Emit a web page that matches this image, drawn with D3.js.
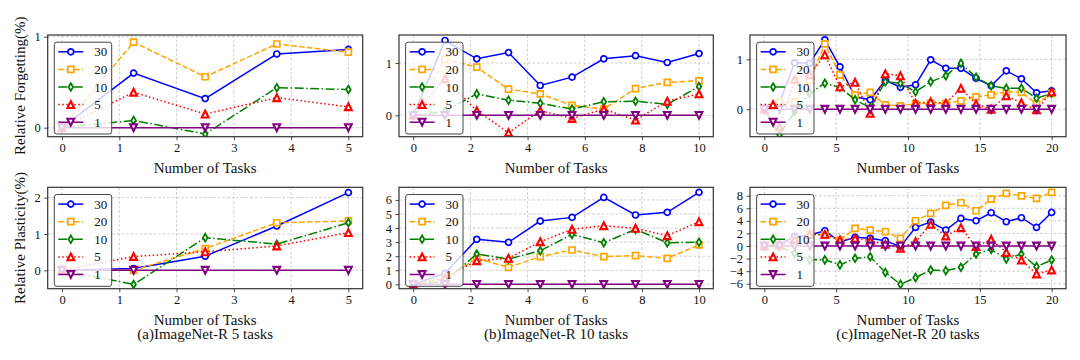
<!DOCTYPE html>
<html><head><meta charset="utf-8">
<script src="https://cdn.jsdelivr.net/npm/d3@7"></script>
<style>body{margin:0;background:#fff}svg{display:block}</style>
</head><body><svg id="c" width="1080" height="360"></svg>
<script>
// ---------- data ----------
const seriesLabels = ["30", "20", "10", "5", "1"];
const tasks5 = [0, 1.25, 2.5, 3.75, 5];
const tasks10 = [0, 1.111, 2.222, 3.333, 4.444, 5.556, 6.667, 7.778, 8.889, 10];
const tasks20 = [0, 1.053, 2.105, 3.158, 4.211, 5.263, 6.316, 7.368, 8.421, 9.474,
                 10.526, 11.579, 12.632, 13.684, 14.737, 15.789, 16.842, 17.895, 18.947, 20];

const forget5_30 = [0, 0.60, 0.32, 0.81, 0.86];
const forget5_20 = [0, 0.94, 0.56, 0.92, 0.83];
const forget5_10 = [0, 0.08, -0.07, 0.44, 0.42];
const forget5_5  = [0, 0.39, 0.15, 0.33, 0.23];
const forget5_1  = [0, 0, 0, 0, 0];

const forget10_30 = [0, 1.43, 1.08, 1.20, 0.57, 0.73, 1.08, 1.14, 1.01, 1.18];
const forget10_20 = [0, 1.07, 0.92, 0.50, 0.41, 0.19, 0.12, 0.51, 0.63, 0.66];
const forget10_10 = [0, 0.08, 0.41, 0.29, 0.23, 0.12, 0.26, 0.27, 0.21, 0.55];
const forget10_5  = [0, 0.70, 0.09, -0.33, 0.09, -0.06, 0.12, -0.09, 0.27, 0.41];
const forget10_1  = [0, 0, 0, 0, 0, 0, 0, 0, 0, 0];

const forget20_30 = [0, 0.12, 0.93, 0.92, 1.39, 0.85, 0.25, 0.19, 0.58, 0.44, 0.49, 0.99, 0.82, 0.82, 0.62, 0.47, 0.77, 0.61, 0.33, 0.37];
const forget20_20 = [0, 0.15, 0.15, 0.58, 1.31, 0.69, 0.29, 0.34, 0.09, 0.07, 0.11, 0.12, 0.12, 0.17, 0.25, 0.29, 0.35, 0.34, 0.11, 0.32];
const forget20_10 = [0, -0.51, -0.05, 0.32, 0.52, 0.44, 0.19, 0.03, 0.55, 0.52, 0.35, 0.55, 0.67, 0.92, 0.64, 0.47, 0.42, 0.42, 0.22, 0.32];
const forget20_5  = [0, -0.35, 0.60, 0.69, 1.09, 0.45, 0.54, -0.08, 0.71, 0.67, 0.12, 0.15, 0.12, 0.42, 0.11, 0.00, 0.27, 0.13, -0.01, 0.35];
const forget20_1  = [0, 0, 0, 0, 0, 0, 0, 0, 0, 0, 0, 0, 0, 0, 0, 0, 0, 0, 0, 0];

const plast5_30 = [0, 0.05, 0.39, 1.22, 2.14];
const plast5_20 = [0, 0.00, 0.60, 1.31, 1.36];
const plast5_10 = [0, -0.39, 0.90, 0.72, 1.31];
const plast5_5  = [0, 0.38, 0.51, 0.67, 1.04];
const plast5_1  = [0, 0, 0, 0, 0];

const plast10_30 = [0, 0.78, 3.20, 2.99, 4.50, 4.76, 6.18, 4.93, 5.12, 6.54];
const plast10_20 = [0, 0.40, 1.85, 1.21, 1.97, 2.44, 1.97, 2.04, 1.85, 2.80];
const plast10_10 = [0, 0.20, 2.16, 1.80, 2.39, 3.55, 2.96, 3.91, 2.96, 2.99];
const plast10_5  = [0, 0.45, 1.68, 1.85, 3.03, 3.91, 4.17, 3.98, 3.46, 4.45];
const plast10_1  = [0, 0, 0, 0, 0, 0, 0, 0, 0, 0];

const plast20_30 = [0, 0.30, 1.48, 1.75, 2.43, 0.65, 1.38, 1.22, 0.85, -0.10, 2.96, 3.81, 2.54, 4.39, 4.02, 5.29, 3.86, 4.50, 2.96, 5.34];
const plast20_20 = [0, 0.20, 0.69, 1.85, 1.75, 0.95, 2.80, 2.54, 2.28, 1.22, 4.02, 5.19, 6.46, 6.88, 5.61, 7.46, 8.36, 7.99, 7.57, 8.52];
const plast20_10 = [0, -0.10, -1.16, -2.20, -2.20, -3.00, -1.96, -1.70, -4.20, -6.10, -5.03, -3.81, -3.92, -3.39, -1.27, -0.53, -2.06, -1.27, -3.28, -2.22];
const plast20_5  = [0, 0.10, 1.00, 1.85, 1.85, 0.95, 1.20, 0.85, 0.26, -0.37, 0.69, 3.44, 1.59, 2.91, -0.10, 1.06, -1.00, -2.22, -4.44, -3.81];
const plast20_1  = [0, 0, 0, 0, 0, 0, 0, 0, 0, 0, 0, 0, 0, 0, 0, 0, 0, 0, 0, 0];

const xTicks5 = [0, 1, 2, 3, 4, 5];
const xTicks10 = [0, 2, 4, 6, 8, 10];
const xTicks20 = [0, 5, 10, 15, 20];
const yTicksForget = [0, 1];
const yTicksPlast5 = [0, 1, 2];
const yTicksPlast10 = [0, 1, 2, 3, 4, 5, 6];
const yTicksPlast20 = [-6, -4, -2, 0, 2, 4, 6, 8];

const captions = ["(a)ImageNet-R 5 tasks", "(b)ImageNet-R 10 tasks", "(c)ImageNet-R 20 tasks"];
const yLabels = ["Relative Forgetting(%)", "Relative Plasticity(%)"];
const xLabel = "Number of Tasks";

// ---------- layout / style ----------
const cols = [{l: 47.7, r: 362.7, xd: [-0.25, 5.25]}, {l: 399, r: 713.3, xd: [-0.5, 10.5]}, {l: 750, r: 1066, xd: [-1, 21]}];
const rows = [{t: 35, b: 136.7}, {t: 187.3, b: 288.7}];
const styles = [
  {color: "#0000ff", dash: null, marker: "circle"},
  {color: "#ffa500", dash: "5.5,2.4", marker: "square"},
  {color: "#008000", dash: "9,2.5,1.5,2.5", marker: "thin_diamond"},
  {color: "#ff0000", dash: "1.5,2.5", marker: "tri_up"},
  {color: "#800080", dash: null, marker: "tri_down"}
];
const FONT = "'Liberation Serif','Times New Roman',serif";

const panels = [
  {row: 0, col: 0, x: tasks5, yd: [-0.099, 1.019], yt: yTicksForget, xt: xTicks5, s: [forget5_30, forget5_20, forget5_10, forget5_5, forget5_1]},
  {row: 0, col: 1, x: tasks10, yd: [-0.408, 1.535], yt: yTicksForget, xt: xTicks10, s: [forget10_30, forget10_20, forget10_10, forget10_5, forget10_1]},
  {row: 0, col: 2, x: tasks20, yd: [-0.548, 1.486], yt: yTicksForget, xt: xTicks20, s: [forget20_30, forget20_20, forget20_10, forget20_5, forget20_1]},
  {row: 1, col: 0, x: tasks5, yd: [-0.506, 2.286], yt: yTicksPlast5, xt: xTicks5, s: [plast5_30, plast5_20, plast5_10, plast5_5, plast5_1]},
  {row: 1, col: 1, x: tasks10, yd: [-0.31, 6.9], yt: yTicksPlast10, xt: xTicks10, s: [plast10_30, plast10_20, plast10_10, plast10_5, plast10_1]},
  {row: 1, col: 2, x: tasks20, yd: [-6.79, 9.34], yt: yTicksPlast20, xt: xTicks20, s: [plast20_30, plast20_20, plast20_10, plast20_5, plast20_1]}
];

function markerPath(type) {
  switch (type) {
    case "circle": { const r = 3; return `M${r},0A${r},${r} 0 1,1 ${-r},0A${r},${r} 0 1,1 ${r},0Z`; }
    case "square": { const h = 3; return `M${-h},${-h}H${h}V${h}H${-h}Z`; }
    case "thin_diamond": { const hh = 3.8, hw = 2.3; return `M0,${-hh}L${hw},0L0,${hh}L${-hw},0Z`; }
    case "tri_up": { const h = 3.4; return `M0,${-h}L${h},${h}L${-h},${h}Z`; }
    case "tri_down": { const h = 3.4; return `M0,${h}L${h},${-h}L${-h},${-h}Z`; }
  }
}
const markerStroke = {circle: 1.7, square: 1.7, thin_diamond: 1.8, tri_up: 2.1, tri_down: 2.1};

const svg = d3.select("#c");
svg.append("rect").attr("width", 1080).attr("height", 360).attr("fill", "#fff");
const fmt = v => (v < 0 ? "\u2212" + Math.abs(v) : String(v));

panels.forEach((p, pi) => {
  const c = cols[p.col], r = rows[p.row];
  const x = d3.scaleLinear().domain(c.xd).range([c.l, c.r]);
  const y = d3.scaleLinear().domain(p.yd).range([r.b, r.t]);
  const g = svg.append("g");
  const clipId = "clip" + pi;
  g.append("clipPath").attr("id", clipId).append("rect")
    .attr("x", c.l).attr("y", r.t).attr("width", c.r - c.l).attr("height", r.b - r.t);

  // grid
  const grid = g.append("g").attr("stroke", "#c4c4c4").attr("stroke-width", 0.8).attr("stroke-dasharray", "2.8,1.8");
  p.xt.forEach(t => grid.append("line").attr("x1", x(t)).attr("x2", x(t)).attr("y1", r.t).attr("y2", r.b));
  p.yt.forEach(t => grid.append("line").attr("x1", c.l).attr("x2", c.r).attr("y1", y(t)).attr("y2", y(t)));

  // axes
  const xAxis = d3.axisBottom(x).tickValues(p.xt).tickFormat(fmt).tickSize(3.5).tickPadding(3);
  const yAxis = d3.axisLeft(y).tickValues(p.yt).tickFormat(fmt).tickSize(3.5).tickPadding(3.5);
  const gx = g.append("g").attr("transform", `translate(0,${r.b})`).call(xAxis);
  const gy = g.append("g").attr("transform", `translate(${c.l},0)`).call(yAxis);
  [gx, gy].forEach(a => {
    a.select(".domain").remove();
    a.selectAll("line").attr("stroke", "#333").attr("stroke-width", 0.9);
    a.selectAll("text").attr("font-family", FONT).attr("font-size", 12.5).attr("fill", "#111");
  });

  // series
  const plot = g.append("g").attr("clip-path", `url(#${clipId})`);
  p.s.forEach((vals, si) => {
    const st = styles[si];
    const pts = vals.map((v, i) => [p.x[i], v]);
    const line = d3.line().x(d => x(d[0])).y(d => y(d[1]));
    plot.append("path").attr("d", line(pts)).attr("fill", "none")
      .attr("stroke", st.color).attr("stroke-width", 1.5)
      .attr("stroke-dasharray", st.dash);
    plot.selectAll(null).data(pts).enter().append("path")
      .attr("d", markerPath(st.marker))
      .attr("transform", d => `translate(${x(d[0])},${y(d[1])})`)
      .attr("fill", "#fff").attr("stroke", st.color).attr("stroke-width", markerStroke[st.marker]);
  });

  // legend
  const lx = c.l + 6.6, ly = r.t + 7.2, lw = 57.4, lh = 91.8;
  const lg = g.append("g");
  lg.append("rect").attr("x", lx).attr("y", ly).attr("width", lw).attr("height", lh)
    .attr("rx", 2.5).attr("fill", "#fff").attr("fill-opacity", 0.8)
    .attr("stroke", "#444").attr("stroke-width", 1);
  seriesLabels.forEach((lab, si) => {
    const st = styles[si];
    const cy = ly + 9.6 + si * 17.6;
    lg.append("line").attr("x1", lx + 4).attr("x2", lx + 29).attr("y1", cy).attr("y2", cy)
      .attr("stroke", st.color).attr("stroke-width", 1.5).attr("stroke-dasharray", st.dash);
    lg.append("path").attr("d", markerPath(st.marker)).attr("transform", `translate(${lx + 16.5},${cy})`)
      .attr("fill", "#fff").attr("stroke", st.color).attr("stroke-width", markerStroke[st.marker]);
    lg.append("text").attr("x", lx + 40).attr("y", cy).attr("dy", "0.35em")
      .attr("font-family", FONT).attr("font-size", 13).attr("fill", "#111").text(lab);
  });

  // frame
  g.append("rect").attr("x", c.l).attr("y", r.t).attr("width", c.r - c.l).attr("height", r.b - r.t)
    .attr("fill", "none").attr("stroke", "#333").attr("stroke-width", 1.2);

  // x label
  g.append("text").attr("x", (c.l + c.r) / 2).attr("y", r.b + 36.3).attr("text-anchor", "middle")
    .attr("font-family", FONT).attr("font-size", 15).attr("fill", "#111").text(xLabel);
  if (p.row === 1) {
    g.append("text").attr("x", (c.l + c.r) / 2).attr("y", 339.3).attr("text-anchor", "middle")
      .attr("font-family", FONT).attr("font-size", 15).attr("fill", "#111").text(captions[p.col]);
  }
  if (p.col === 0) {
    g.append("text").attr("transform", `translate(25,${(r.t + r.b) / 2}) rotate(-90)`)
      .attr("text-anchor", "middle")
      .attr("font-family", FONT).attr("font-size", 15).attr("fill", "#111").text(yLabels[p.row]);
  }
});
</script></body></html>
